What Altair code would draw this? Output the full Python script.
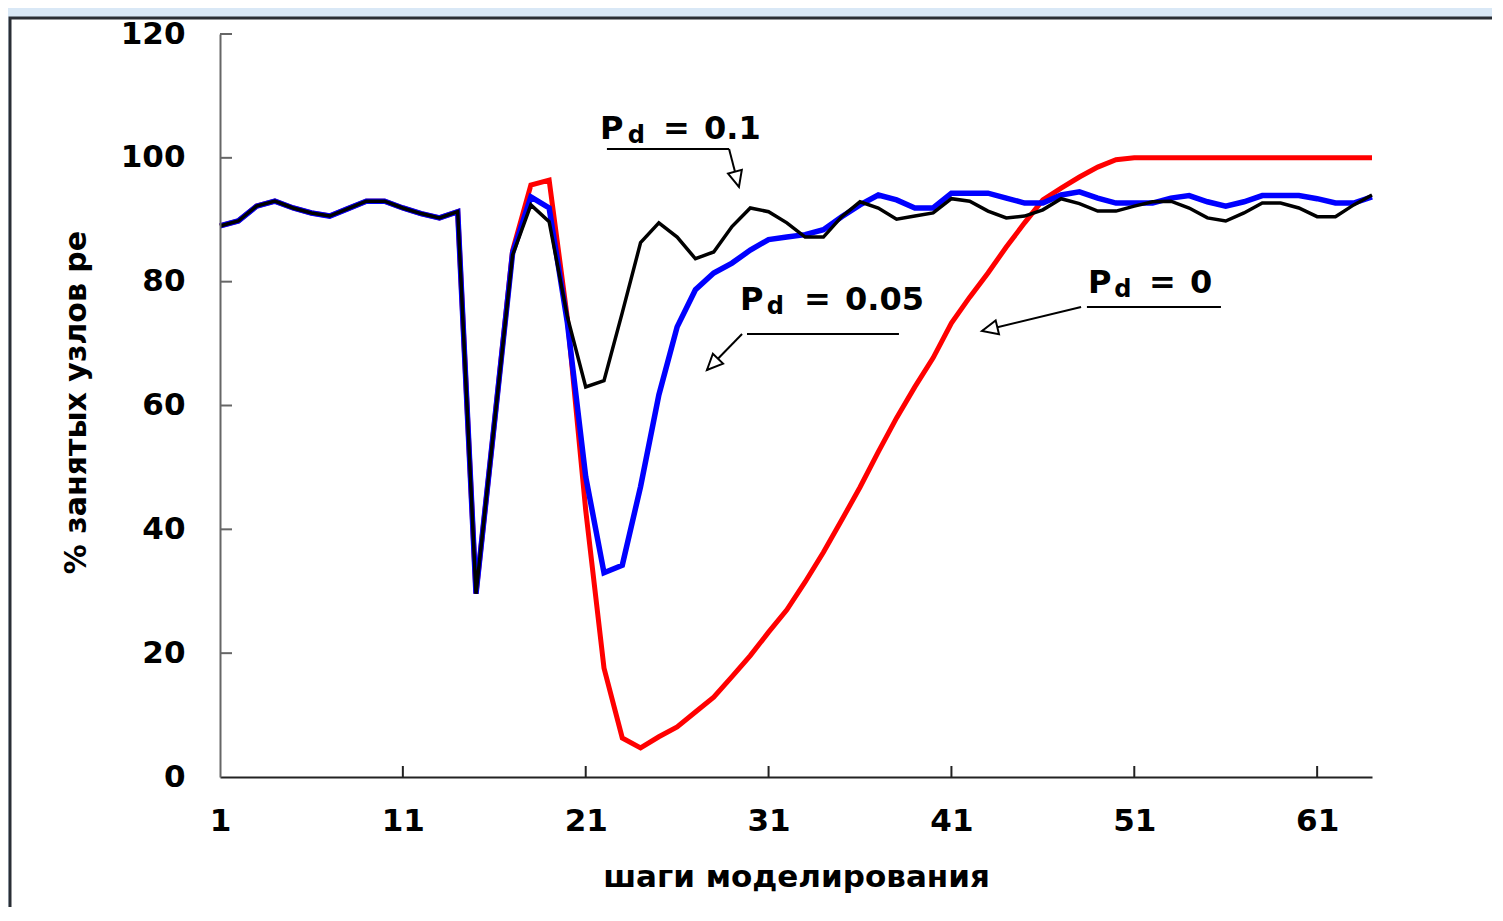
import altair as alt
import pandas as pd

steps = list(range(1, 65))

pd0 = [89.0, 89.8, 92.2, 93.0, 91.9, 91.1, 90.6, 91.8, 93.0, 93.0, 91.9, 91.0, 90.3, 91.3, 29.6, 57.0,
       85.0, 95.6, 96.4, 74.0, 43.1, 17.6, 6.3, 4.7, 6.5, 8.1, 10.5, 12.9, 16.2, 19.6,
       23.4, 27.0, 31.5, 36.3, 41.5, 46.8, 52.5, 58.0, 63.0, 67.7,
       73.3, 77.5, 81.4, 85.6, 89.5, 93.2, 95.1, 96.9, 98.5, 99.7,
       100, 100, 100, 100, 100, 100, 100, 100, 100, 100, 100, 100, 100, 100]

pd005 = [89.0, 89.8, 92.2, 93.0, 91.9, 91.1, 90.6, 91.8, 93.0, 93.0, 91.9, 91.0, 90.3, 91.3, 29.6, 57.0,
         84.6, 93.7, 91.9, 73.3, 48.5, 33.0, 34.2, 46.9, 61.7, 72.7, 78.7, 81.4, 83.0, 85.1,
         86.8, 87.2, 87.6, 88.4, 90.5, 92.4, 94.0, 93.2, 91.9, 91.9,
         94.3, 94.3, 94.3, 93.5, 92.7, 92.7, 94.0, 94.5, 93.5, 92.7,
         92.7, 92.7, 93.5, 93.9, 92.9, 92.2, 92.9, 93.9, 93.9, 93.9, 93.4, 92.7, 92.7, 93.7]

pd01 = [89.0, 89.8, 92.2, 93.0, 91.9, 91.1, 90.6, 91.8, 93.0, 93.0, 91.9, 91.0, 90.3, 91.3, 29.6, 57.0,
        84.3, 92.4, 89.7, 74.3, 63.0, 64.0, 75.0, 86.3, 89.5, 87.2, 83.7, 84.8, 88.9, 91.9,
        91.3, 89.5, 87.2, 87.2, 90.5, 92.9, 91.9, 90.1, 90.6, 91.1,
        93.4, 93.0, 91.4, 90.3, 90.6, 91.6, 93.4, 92.6, 91.4, 91.4,
        92.2, 92.9, 93.0, 91.9, 90.3, 89.8, 91.1, 92.7, 92.7, 91.9, 90.5, 90.5, 92.4, 94.0]

x_ticks = [1, 11, 21, 31, 41, 51, 61]
y_ticks = [0, 20, 40, 60, 80, 100, 120]
x_title = "шаги моделирования"
y_title = "% занятых узлов ре"

# annotation labels (data units)
ann_big = pd.DataFrame({
    "step": [21.78, 25.23, 27.47, 29.44, 32.94, 35.18, 48.47, 51.80, 54.05],
    "value": [103.04, 103.04, 103.04, 75.42, 75.42, 75.42, 78.17, 78.17, 78.17],
    "txt": ["P", "=", "0.1", "P", "=", "0.05", "P", "=", "0"],
})
ann_sub = pd.DataFrame({
    "step": [23.30, 30.90, 49.90],
    "value": [102.40, 74.78, 77.52],
    "txt": ["d", "d", "d"],
})
ann_lines = pd.DataFrame({
    "step": [22.16, 28.84, 29.82, 29.55, 48.41, 48.09],
    "value": [101.43, 101.43, 71.55, 71.55, 75.91, 75.91],
    "step2": [28.84, 29.38, 38.13, 27.63, 55.74, 42.67],
    "value2": [101.43, 95.29, 71.55, 65.73, 75.91, 72.03],
})
ann_heads = pd.DataFrame({
    "step": [29.38, 27.63, 42.67],
    "value": [95.29, 65.73, 72.03],
    "angle": [165.3, 224.2, 256.4],
})

W, H = 1152, 743
FONT = "DejaVu Sans"

df = pd.DataFrame({
    "step": steps * 3,
    "value": pd0 + pd005 + pd01,
    "series": ["Pd = 0"] * 64 + ["Pd = 0.05"] * 64 + ["Pd = 0.1"] * 64,
})

xs = alt.Scale(domain=[1, 64], nice=False, zero=False)
ys = alt.Scale(domain=[0, 120], nice=False, zero=False)

x_axis = alt.Axis(values=x_ticks, tickSize=0, labelFont=FONT, labelFontSize=31, labelFontWeight="bold",
                  labelColor="black", labelPadding=29, labelFlush=False, labelOverlap=False,
                  domainColor="#222222", domainWidth=2, grid=False, zindex=1,
                  title=x_title, titleFont=FONT, titleFontSize=31, titleFontWeight="bold",
                  titleColor="black", titleX=576, titleY=100, titleBaseline="middle", titleAlign="center")
y_axis = alt.Axis(values=y_ticks, tickSize=0, labelFont=FONT, labelFontSize=31, labelFontWeight="bold",
                  labelColor="black", labelPadding=35, labelFlush=False, labelOverlap=False,
                  domainColor="#666666", domainWidth=2, grid=False, zindex=1,
                  title=y_title, titleFont=FONT, titleFontSize=30, titleFontWeight="bold",
                  titleColor="black", titleX=-144, titleY=368, titleAngle=270,
                  titleBaseline="middle", titleAlign="center")

X = alt.X("step:Q", scale=xs, axis=x_axis)
Y = alt.Y("value:Q", scale=ys, axis=y_axis)

frame = alt.Chart(pd.DataFrame({"k": [0]})).mark_rect(
    fill="white", stroke="#2a2e35", strokeWidth=3
).encode(x=alt.value(-210), x2=alt.value(W + 300), y=alt.value(-16), y2=alt.value(H + 300))

base = alt.Chart(df)

def line(name, color, width):
    return base.transform_filter(alt.datum.series == name).mark_line(
        color=color, strokeWidth=width, strokeJoin="miter", strokeCap="butt"
    ).encode(x=X, y=Y)

ytick_rules = alt.Chart(pd.DataFrame({"value": y_ticks[1:]})).mark_rule(color="#666666", strokeWidth=2).encode(
    y=Y, x=alt.value(0), x2=alt.value(12))
xtick_rules = alt.Chart(pd.DataFrame({"step": x_ticks[1:]})).mark_rule(color="#222222", strokeWidth=2).encode(
    x=X, y=alt.value(H), y2=alt.value(H - 11))

rules = alt.Chart(ann_lines).mark_rule(color="black", strokeWidth=2).encode(
    x=X, y=Y, x2="step2:Q", y2="value2:Q")

heads = alt.Chart(ann_heads).mark_point(
    shape="M0,0 L0.45,1 L-0.45,1 Z", size=1000, filled=True, fill="white", stroke="black",
    strokeWidth=2, opacity=1
).encode(x=X, y=Y, angle=alt.Angle("angle:Q", scale=None))

big = alt.Chart(ann_big).mark_text(
    font=FONT, fontSize=32, fontWeight="bold", align="left", baseline="alphabetic", color="black"
).encode(x=X, y=Y, text="txt:N")

sub = alt.Chart(ann_sub).mark_text(
    font=FONT, fontSize=24, fontWeight="bold", align="left", baseline="alphabetic", color="black"
).encode(x=X, y=Y, text="txt:N")

chart = alt.layer(
    frame, line("Pd = 0", "#ff0000", 5), line("Pd = 0.05", "#0000ff", 5.5), line("Pd = 0.1", "black", 3.5),
    ytick_rules, xtick_rules, rules, heads, big, sub
).properties(
    width=W, height=H,
    autosize=alt.AutoSizeParams(type="none"),
    padding={"left": 212, "top": 26, "right": 120, "bottom": 130},
    background="#d9e8f6",
).configure_view(strokeWidth=0)

chart.save("out.html", embed_options={"renderer": "svg", "actions": False})
